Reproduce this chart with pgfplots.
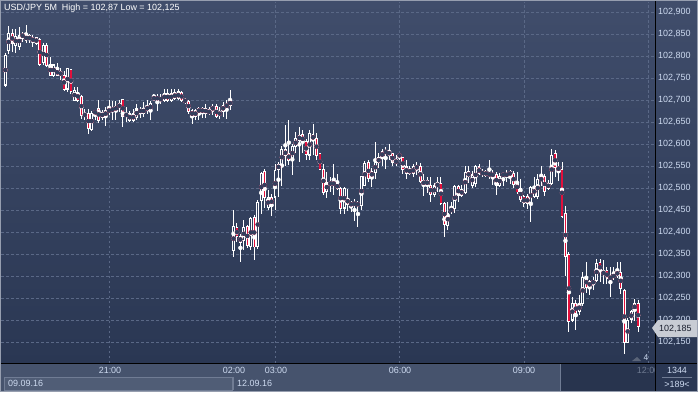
\documentclass[border=0pt]{standalone}
\usepackage{pgfplots}
\pgfplotsset{compat=1.18}
\usepackage{pgfplotstable}
\usepackage{fontspec}
\setmainfont{Liberation Sans}
\definecolor{bgtop}{RGB}{64,77,107}
\definecolor{bgbot}{RGB}{42,55,83}
\definecolor{gridc}{RGB}{90,104,134}
\definecolor{tickc}{RGB}{205,218,240}
\definecolor{candred}{RGB}{226,16,60}
\definecolor{candin}{RGB}{50,63,93}
\definecolor{timerow}{RGB}{70,83,109}
\definecolor{datebox}{RGB}{80,93,118}
\definecolor{dateline}{RGB}{112,124,148}
\definecolor{future}{RGB}{40,52,78}
\definecolor{frame}{RGB}{150,158,175}
\definecolor{marker}{RGB}{200,204,212}
\definecolor{futtext}{RGB}{110,122,145}
\definecolor{trig}{RGB}{90,100,120}
\definecolor{marktext}{RGB}{25,30,45}

\pgfplotstableread{
i O H L C
0 102.734 102.806 102.730 102.802
1 102.814 102.870 102.806 102.853
2 102.853 102.862 102.810 102.829
3 102.825 102.862 102.806 102.844
4 102.821 102.866 102.814 102.847
5 102.849 102.855 102.832 102.843
6 102.836 102.870 102.829 102.849
7 102.847 102.851 102.829 102.838
8 102.834 102.847 102.821 102.842
9 102.842 102.845 102.825 102.829
10 102.838 102.842 102.778 102.783
11 102.786 102.830 102.780 102.825
12 102.825 102.829 102.776 102.780
13 102.780 102.798 102.757 102.757
14 102.757 102.780 102.753 102.780
15 102.772 102.785 102.757 102.757
16 102.757 102.775 102.748 102.765
17 102.757 102.768 102.722 102.726
18 102.726 102.772 102.720 102.772
19 102.768 102.770 102.715 102.719
20 102.700 102.730 102.698 102.723
21 102.719 102.730 102.696 102.700
22 102.708 102.712 102.658 102.666
23 102.662 102.680 102.655 102.670
24 102.670 102.681 102.624 102.636
25 102.634 102.675 102.630 102.670
26 102.670 102.677 102.655 102.674
27 102.681 102.700 102.648 102.655
28 102.662 102.677 102.655 102.672
29 102.662 102.685 102.643 102.677
30 102.674 102.700 102.666 102.681
31 102.681 102.700 102.655 102.676
32 102.677 102.700 102.655 102.685
33 102.683 102.700 102.674 102.692
34 102.700 102.700 102.639 102.662
35 102.662 102.685 102.651 102.670
36 102.655 102.677 102.651 102.670
37 102.670 102.680 102.650 102.655
38 102.662 102.692 102.655 102.681
39 102.677 102.685 102.660 102.674
40 102.670 102.696 102.662 102.681
41 102.677 102.700 102.670 102.685
42 102.677 102.700 102.655 102.692
43 102.708 102.715 102.704 102.700
44 102.700 102.715 102.677 102.708
45 102.700 102.715 102.692 102.706
46 102.700 102.726 102.696 102.715
47 102.715 102.726 102.696 102.700
48 102.700 102.726 102.696 102.715
49 102.717 102.726 102.700 102.704
50 102.704 102.726 102.700 102.719
51 102.719 102.723 102.696 102.700
52 102.700 102.704 102.692 102.696
53 102.698 102.700 102.670 102.675
54 102.677 102.681 102.647 102.662
55 102.662 102.681 102.655 102.677
56 102.681 102.685 102.655 102.674
57 102.672 102.685 102.660 102.681
58 102.681 102.692 102.658 102.670
59 102.670 102.685 102.666 102.677
60 102.677 102.692 102.666 102.685
61 102.685 102.692 102.658 102.662
62 102.666 102.685 102.658 102.674
63 102.674 102.696 102.662 102.689
64 102.685 102.700 102.658 102.692
65 102.689 102.723 102.677 102.700
66 102.359 102.450 102.344 102.412
67 102.412 102.420 102.378 102.390
68 102.390 102.397 102.333 102.378
69 102.382 102.427 102.359 102.412
70 102.412 102.416 102.363 102.371
71 102.367 102.435 102.359 102.431
72 102.433 102.439 102.338 102.367
73 102.367 102.473 102.363 102.467
74 102.473 102.537 102.442 102.533
75 102.538 102.543 102.454 102.479
76 102.458 102.496 102.450 102.479
77 102.479 102.488 102.437 102.459
78 102.480 102.556 102.450 102.541
79 102.543 102.560 102.480 102.555
80 102.552 102.598 102.507 102.588
81 102.588 102.645 102.552 102.575
82 102.579 102.655 102.552 102.564
83 102.564 102.602 102.530 102.596
84 102.596 102.628 102.579 102.613
85 102.609 102.640 102.560 102.621
86 102.621 102.632 102.579 102.604
87 102.604 102.613 102.564 102.575
88 102.575 102.632 102.564 102.623
89 102.624 102.645 102.575 102.609
90 102.613 102.624 102.564 102.575
91 102.579 102.579 102.541 102.543
92 102.543 102.556 102.484 102.492
93 102.492 102.537 102.479 102.514
94 102.514 102.526 102.492 102.509
95 102.509 102.556 102.484 102.514
96 102.509 102.533 102.496 102.499
97 102.499 102.503 102.443 102.454
98 102.454 102.503 102.443 102.499
99 102.477 102.499 102.450 102.464
100 102.461 102.473 102.446 102.466
101 102.463 102.477 102.427 102.466
102 102.462 102.473 102.412 102.464
103 102.461 102.526 102.450 102.526
104 102.507 102.564 102.507 102.558
105 102.558 102.564 102.514 102.522
106 102.526 102.545 102.503 102.539
107 102.537 102.605 102.522 102.559
108 102.558 102.579 102.545 102.570
109 102.570 102.590 102.552 102.583
110 102.579 102.594 102.543 102.585
111 102.585 102.602 102.564 102.575
112 102.579 102.580 102.552 102.558
113 102.558 102.575 102.549 102.565
114 102.573 102.579 102.564 102.577
115 102.570 102.571 102.533 102.542
116 102.549 102.564 102.522 102.533
117 102.533 102.552 102.530 102.543
118 102.533 102.556 102.528 102.549
119 102.549 102.560 102.530 102.547
120 102.549 102.558 102.511 102.515
121 102.518 102.533 102.484 102.507
122 102.507 102.526 102.488 102.518
123 102.505 102.526 102.469 102.486
124 102.486 102.511 102.480 102.505
125 102.505 102.526 102.492 102.511
126 102.511 102.526 102.461 102.465
127 102.467 102.469 102.390 102.418
128 102.416 102.469 102.405 102.443
129 102.449 102.469 102.443 102.454
130 102.454 102.507 102.443 102.503
131 102.503 102.507 102.469 102.484
132 102.484 102.507 102.480 102.499
133 102.492 102.550 102.488 102.537
134 102.537 102.549 102.511 102.526
135 102.507 102.541 102.503 102.530
136 102.511 102.552 102.503 102.550
137 102.549 102.556 102.530 102.533
138 102.533 102.545 102.526 102.537
139 102.530 102.541 102.526 102.537
140 102.530 102.564 102.522 102.535
141 102.534 102.541 102.507 102.526
142 102.530 102.537 102.484 102.507
143 102.507 102.533 102.503 102.526
144 102.526 102.537 102.507 102.534
145 102.526 102.541 102.515 102.534
146 102.537 102.541 102.511 102.530
147 102.535 102.541 102.503 102.509
148 102.514 102.537 102.488 102.492
149 102.499 102.522 102.469 102.473
150 102.480 102.484 102.458 102.465
151 102.480 102.488 102.454 102.465
152 102.465 102.507 102.424 102.503
153 102.481 102.526 102.477 102.503
154 102.481 102.533 102.477 102.518
155 102.518 102.552 102.507 102.526
156 102.526 102.533 102.484 102.492
157 102.500 102.518 102.496 102.511
158 102.511 102.590 102.507 102.575
159 102.579 102.586 102.526 102.548
160 102.548 102.560 102.518 102.541
161 102.543 102.560 102.433 102.436
162 102.442 102.461 102.302 102.344
163 102.348 102.355 102.173 102.196
164 102.200 102.253 102.196 102.238
165 102.238 102.245 102.177 102.215
166 102.219 102.257 102.211 102.238
167 102.238 102.310 102.234 102.298
168 102.298 102.332 102.261 102.276
169 102.287 102.291 102.257 102.276
170 102.283 102.298 102.268 102.291
171 102.291 102.340 102.287 102.329
172 102.329 102.340 102.287 102.310
173 102.310 102.336 102.283 102.306
174 102.313 102.321 102.283 102.295
175 102.298 102.321 102.253 102.295
176 102.298 102.321 102.291 102.302
177 102.302 102.332 102.295 102.310
178 102.308 102.332 102.259 102.272
179 102.268 102.272 102.125 102.148
180 102.151 102.204 102.148 102.200
181 102.200 102.223 102.193 102.219
182 102.223 102.249 102.200 102.238
183 102.238 102.247 102.174 102.185
}\candles

\begin{document}
\begin{tikzpicture}[x=1bp,y=1bp,font=\fontsize{9}{10}\selectfont]
\useasboundingbox (0,0) rectangle (698,392);
% backgrounds
\shade[top color=bgtop,bottom color=bgbot] (0,29) rectangle (698,392);
\fill[timerow] (0,0) rectangle (655,29);
\fill[future] (561,1) rectangle (655,29);
\draw[dateline,line width=1bp] (560.5,1) -- (560.5,29);
\fill[datebox] (4,2) rectangle (232,15);
\draw[dateline,line width=0.8bp] (4,2) rectangle (232,15);
\draw[dateline,line width=0.8bp] (233.5,2) -- (233.5,15);
\fill[bgbot] (655,0) rectangle (698,29);

\begin{axis}[
  at={(1bp,29bp)}, anchor=south west,
  width=654bp, height=361bp, scale only axis,
  xmin=-1.243, xmax=187.9,
  ymin=102.1023, ymax=102.9227,
  axis line style={draw=none},
  tick style={draw=none},
  major tick length=0pt,
  xtick={30,78,114,150,186},
  xticklabels={},
  ytick={102.15,102.2,102.25,102.3,102.35,102.4,102.45,102.5,102.55,102.6,102.65,102.7,102.75,102.8,102.85,102.9},
  yticklabels={{102,150},{102,200},{102,250},{102,300},{102,350},{102,400},{102,450},{102,500},{102,550},{102,600},{102,650},{102,700},{102,750},{102,800},{102,850},{102,900}},
  yticklabel pos=right,
  yticklabel style={anchor=west, text=tickc, inner sep=0pt, xshift=3bp, font=\fontsize{9}{10}\selectfont},
  grid=major,
  major grid style={draw=gridc, line width=0.7bp, dash pattern=on 2.5bp off 2.5bp},
]
% wicks
\addplot[white, only marks, mark=none,
  error bars/.cd, y dir=both, y explicit, error mark=none,
  error bar style={line width=1bp, draw=white}]
  table[x=i, y expr={(\thisrow{H}+\thisrow{L})/2}, y error expr={(\thisrow{H}-\thisrow{L})/2}] {\candles};
% outer bodies
\addplot[white, only marks, mark=none,
  error bars/.cd, y dir=both, y explicit, error mark=none,
  error bar style={line width=2.9bp, draw=white}]
  table[x=i, y expr={(\thisrow{O}+\thisrow{C})/2}, y error expr={abs(\thisrow{O}-\thisrow{C})/2+0.0012}] {\candles};
% bearish fill
\addplot[candred, only marks, mark=none,
  error bars/.cd, y dir=both, y explicit, error mark=none,
  error bar style={line width=1.3bp, draw=candred}]
  table[x=i, y expr={(\thisrow{O}+\thisrow{C})/2}, y error expr={max((\thisrow{O}-\thisrow{C})/2-0.0010,0)}] {\candles};
% bullish fill
\addplot[candin, only marks, mark=none,
  error bars/.cd, y dir=both, y explicit, error mark=none,
  error bar style={line width=1bp, draw=candin}]
  table[x=i, y expr={(\thisrow{O}+\thisrow{C})/2}, y error expr={max((\thisrow{C}-\thisrow{O})/2-0.0012,0)}] {\candles};
\end{axis}

% separators and frame
\draw[black,line width=1.2bp] (655.5,0) -- (655.5,392);
\draw[black,line width=1.2bp] (0,28.5) -- (698,28.5);
\draw[frame,line width=1.2bp] (0.6,0.6) rectangle (697.4,391.4);

% title
\node[anchor=west,text=white,inner sep=0pt] at (4,384) {USD/JPY 5M\ \ High = 102,87 Low = 102,125};

% time labels
\node[text=tickc,inner sep=0pt] at (110,22) {21:00};
\node[text=tickc,inner sep=0pt] at (234,22) {02:00};
\node[text=tickc,inner sep=0pt] at (276,22) {03:00};
\node[text=tickc,inner sep=0pt] at (400,22) {06:00};
\node[text=tickc,inner sep=0pt] at (524,22) {09:00};
\begin{scope}
\clip (561,16) rectangle (654.5,29);
\node[text=futtext,inner sep=0pt] at (648,22) {12:00};
\end{scope}
% date labels
\node[anchor=west,text=tickc,inner sep=0pt] at (8,8.5) {09.09.16};
\node[anchor=west,text=tickc,inner sep=0pt] at (237,8.5) {12.09.16};
% right panel bottom
\node[text=tickc,inner sep=0pt] at (677,21.5) {1344};
\draw[dateline,line width=0.8bp] (662,15) -- (692,15);
\node[text=tickc,inner sep=0pt] at (677,8) {>189<};
% small marker 4
\fill[trig] (632,31) -- (641,31) -- (637,35) -- cycle;
\node[text=tickc,inner sep=0pt,font=\fontsize{8.5}{9}\selectfont] at (646,34) {4};
% price marker
\fill[marker] (652,64) -- (658,72) -- (697,72) -- (697,55) -- (658,55) -- cycle;
\node[anchor=west,text=marktext,inner sep=0pt] at (659,63.5) {102,185};
\end{tikzpicture}
\end{document}
